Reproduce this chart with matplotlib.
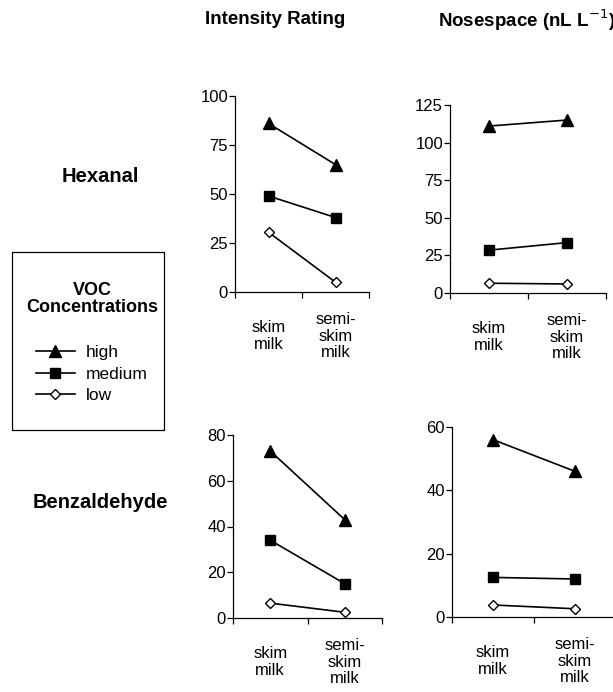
import matplotlib
matplotlib.use("Agg")
import matplotlib.pyplot as plt
from matplotlib.lines import Line2D
from matplotlib.patches import Rectangle

plt.rcParams['font.family'] = ['Liberation Sans', 'DejaVu Sans']

# ---- data ----
categories = ["skim\nmilk", "semi-\nskim\nmilk"]
levels = ["high", "medium", "low"]
compounds = ["Hexanal", "Benzaldehyde"]
measures = ["Intensity Rating", "Nosespace (nL L$^{-1}$)"]

hexanal_intensity = {"high": [86, 65], "medium": [49, 38], "low": [30.5, 5]}
hexanal_nosespace = {"high": [111, 115], "medium": [28.5, 33.5], "low": [6.5, 6]}
benz_intensity = {"high": [73, 43], "medium": [34, 15], "low": [6.5, 2.5]}
benz_nosespace = {"high": [56, 46], "medium": [12.5, 12], "low": [3.8, 2.6]}

yticks_hex_int = [0, 25, 50, 75, 100]
yticks_hex_nose = [0, 25, 50, 75, 100, 125]
yticks_benz_int = [0, 20, 40, 60, 80]
yticks_benz_nose = [0, 20, 40, 60]

W, H = 613, 692
fig = plt.figure(figsize=(W / 100, H / 100), dpi=100)

styles = {
    "high": dict(marker="^", markersize=8.5, markerfacecolor="black", markeredgecolor="black"),
    "medium": dict(marker="s", markersize=6.5, markerfacecolor="black", markeredgecolor="black"),
    "low": dict(marker="D", markersize=5, markerfacecolor="white", markeredgecolor="black", markeredgewidth=1.0),
}


def make_axes(x0, x1, ytop, ybot):
    return fig.add_axes([x0 / W, 1 - ybot / H, (x1 - x0) / W, (ybot - ytop) / H])


def draw_panel(ax, data, yticks):
    xs = list(range(len(categories)))
    for lv in levels:
        ax.plot(xs, data[lv], color="black", lw=1.2, **styles[lv], clip_on=False, zorder=3)
    ax.set_xlim(-0.5, len(categories) - 0.5)
    ax.set_ylim(yticks[0], yticks[-1])
    ax.set_yticks(yticks)
    ax.set_xticks([i - 0.5 for i in range(len(categories) + 1)])
    ax.set_xticklabels([])
    for s in ["top", "right"]:
        ax.spines[s].set_visible(False)
    for s in ["left", "bottom"]:
        ax.spines[s].set_linewidth(0.9)
    ax.tick_params(axis="both", direction="out", length=4, width=0.9, labelsize=12, pad=1)
    ax.patch.set_alpha(0)
    for i, c in enumerate(categories):
        ax.annotate(c, xy=(i, 0), xycoords=("data", "axes fraction"),
                    xytext=(0, -31.7), textcoords="offset points",
                    ha="center", va="center", fontsize=12, linespacing=1.15,
                    annotation_clip=False)


ax1 = make_axes(235, 369, 96, 292)
draw_panel(ax1, hexanal_intensity, yticks_hex_int)
ax2 = make_axes(450, 606, 105, 293)
draw_panel(ax2, hexanal_nosespace, yticks_hex_nose)
ax3 = make_axes(233, 382, 435, 618)
draw_panel(ax3, benz_intensity, yticks_benz_int)
ax4 = make_axes(452, 616, 427, 617)
draw_panel(ax4, benz_nosespace, yticks_benz_nose)

# column titles
fig.text(275 / W, 1 - 20 / H, measures[0], ha="center", va="center", fontsize=13.5, fontweight="bold")
fig.text(438 / W, 1 - 20 / H, measures[1], ha="left", va="center", fontsize=13.5, fontweight="bold")

# row labels
fig.text(100 / W, 1 - 177 / H, compounds[0], ha="center", va="center", fontsize=14.5, fontweight="bold")
fig.text(100 / W, 1 - 502 / H, compounds[1], ha="center", va="center", fontsize=14.5, fontweight="bold")

# legend box
fig.patches.append(Rectangle((12 / W, 1 - 430 / H), (164 - 12) / W, (430 - 252) / H,
                             transform=fig.transFigure, fill=False, edgecolor="black", lw=0.9))
handles = [Line2D([0], [0], color="black", lw=1.2, **styles[lv]) for lv in levels]
leg = fig.legend(handles, levels, loc="upper center", bbox_to_anchor=(92 / W, 1 - 273 / H),
                 frameon=False, fontsize=12.5, title="VOC\nConcentrations",
                 title_fontproperties={"weight": "bold", "size": 13},
                 handlelength=2.2, handletextpad=0.65, labelspacing=0.38, borderpad=0,
                 alignment="center")
leg.get_title().set_linespacing(1.0)
leg.get_title().set_multialignment("center")
leg._legend_box.sep = 21

fig.savefig("out.png", dpi=100)
